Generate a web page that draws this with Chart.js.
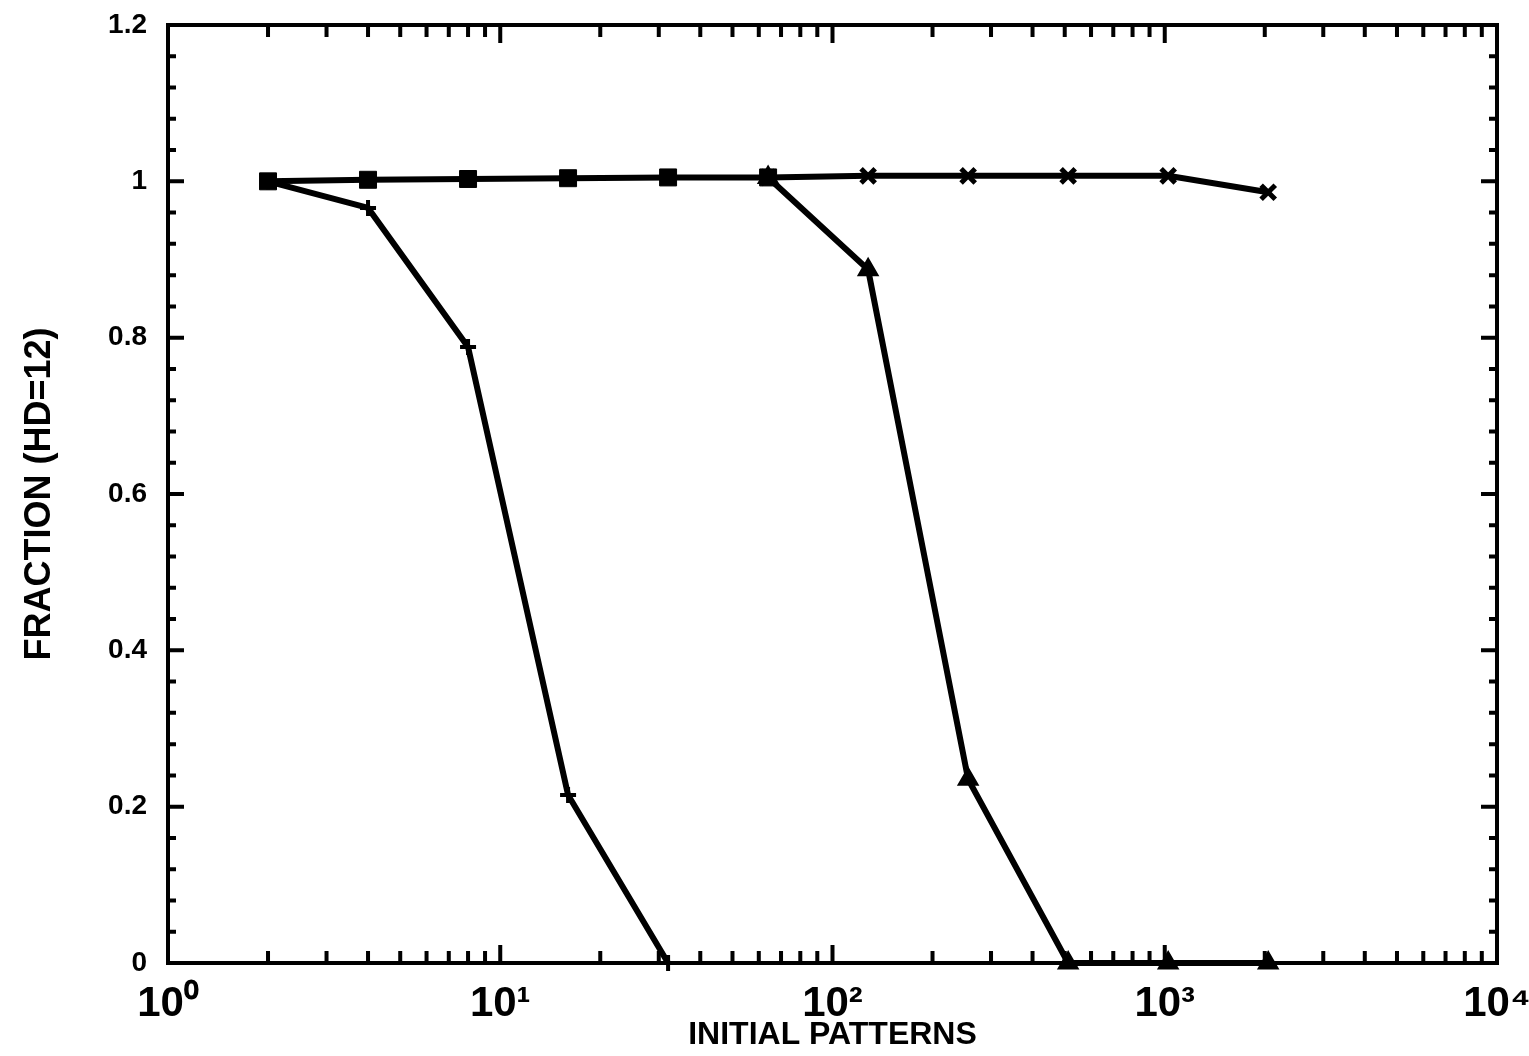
<!DOCTYPE html>
<html>
<head>
<meta charset="utf-8">
<script src="https://cdn.jsdelivr.net/npm/chart.js"></script>
<style>
html, body { margin: 0; padding: 0; background: #fff; }
</style>
</head>
<body>
<canvas id="fracChart" width="1529" height="1056"></canvas>
<script>
// fraction recalled at HD=12 against number of initial patterns
const squareX = [2, 4, 8, 16, 32, 64];
const squareY = [1.0, 1.002, 1.003, 1.004, 1.005, 1.005];
const plusX = [2, 4, 8, 16, 32];
const plusY = [1.0, 0.966, 0.788, 0.215, 0.0];
const triX = [64, 128, 256, 512, 1024, 2048];
const triY = [1.005, 0.887, 0.235, 0.0, 0.0, 0.0];
const crossX = [64, 128, 256, 512, 1024, 2048];
const crossY = [1.005, 1.007, 1.007, 1.007, 1.007, 0.986];

const xTicks = [1, 10, 100, 1000, 10000];
const xTickLabels = ["10\u2070", "10\u00b9", "10\u00b2", "10\u00b3", "10\u2074"];
const yTicks = [0, 0.2, 0.4, 0.6, 0.8, 1, 1.2];
const yTickLabels = ["0", "0.2", "0.4", "0.6", "0.8", "1", "1.2"];

const FONT = "'Liberation Sans Narrow', 'Liberation Sans', Arial, sans-serif";

function pts(xs, ys) {
  return xs.map((x, i) => ({ x: x, y: ys[i] }));
}

function series(xs, ys, style, radius, width) {
  return {
    data: pts(xs, ys),
    borderColor: "#000",
    borderWidth: 6,
    pointStyle: style,
    pointRadius: radius,
    pointBorderWidth: width,
    pointBorderColor: "#000",
    pointBackgroundColor: "#000",
    tension: 0,
    clip: false
  };
}

// tick marks pointing into the plot on all four sides, plus the frame
const inwardTicks = {
  id: "inwardTicks",
  afterDraw(chart) {
    const { ctx, chartArea: a, scales: { x, y } } = chart;
    ctx.save();
    ctx.strokeStyle = "#000";
    ctx.lineWidth = 4;
    ctx.beginPath();
    for (let d = 0; d < 4; d++) {
      for (let m = 1; m <= 9; m++) {
        const px = x.getPixelForValue(m * Math.pow(10, d));
        const len = m === 1 ? 18 : 12;
        ctx.moveTo(px, a.bottom); ctx.lineTo(px, a.bottom - len);
        ctx.moveTo(px, a.top); ctx.lineTo(px, a.top + len);
      }
    }
    for (let i = 0; i <= 30; i++) {
      const py = y.getPixelForValue(i * 0.04);
      const len = i % 5 === 0 ? 16 : 8;
      ctx.moveTo(a.left, py); ctx.lineTo(a.left + len, py);
      ctx.moveTo(a.right, py); ctx.lineTo(a.right - len, py);
    }
    ctx.stroke();
    ctx.lineWidth = 4;
    ctx.strokeRect(a.left, a.top, a.right - a.left, a.bottom - a.top);
    ctx.restore();
  }
};

new Chart(document.getElementById("fracChart"), {
  type: "line",
  data: {
    datasets: [
      series(squareX, squareY, "rect", 12, 1),
      series(plusX, plusY, "cross", 8, 4),
      series(triX, triY, "triangle", 11, 2),
      series(crossX, crossY, "crossRot", 10, 5)
    ]
  },
  options: {
    responsive: false,
    animation: false,
    devicePixelRatio: 1,
    layout: { padding: { top: 25, right: 32, left: 0, bottom: 0 } },
    plugins: { legend: { display: false }, tooltip: { enabled: false } },
    scales: {
      x: {
        type: "logarithmic",
        min: 1,
        max: 10000,
        grid: { display: false, drawTicks: false },
        border: { display: false },
        afterBuildTicks: s => { s.ticks = xTicks.map(v => ({ value: v })); },
        afterFit: s => {
          s.height = 93;
          s.paddingLeft = 0;
          s.paddingRight = 0;
        },
        ticks: {
          autoSkip: false,
          maxRotation: 0,
          padding: 16,
          color: "#000",
          font: { family: FONT, size: 42, weight: "bold" },
          callback: (v, i) => xTickLabels[i]
        },
        title: {
          display: true,
          text: "INITIAL PATTERNS",
          color: "#000",
          font: { family: FONT, size: 32, weight: "bold", lineHeight: 1 },
          padding: { top: 0, bottom: 5 }
        }
      },
      y: {
        min: 0,
        max: 1.2,
        grid: { display: false, drawTicks: false },
        border: { display: false },
        afterBuildTicks: s => { s.ticks = yTicks.map(v => ({ value: v })); },
        afterFit: s => {
          s.width = 168;
          s.paddingTop = 0;
          s.paddingBottom = 0;
        },
        ticks: {
          padding: 21,
          color: "#000",
          font: { family: FONT, size: 28, weight: "bold" },
          callback: (v, i) => yTickLabels[i]
        },
        title: {
          display: true,
          text: "FRACTION (HD=12)",
          color: "#000",
          font: { family: FONT, size: 36, weight: "bold", lineHeight: 1 },
          padding: { top: 22, bottom: 0 }
        }
      }
    }
  },
  plugins: [inwardTicks]
});
</script>
</body>
</html>
